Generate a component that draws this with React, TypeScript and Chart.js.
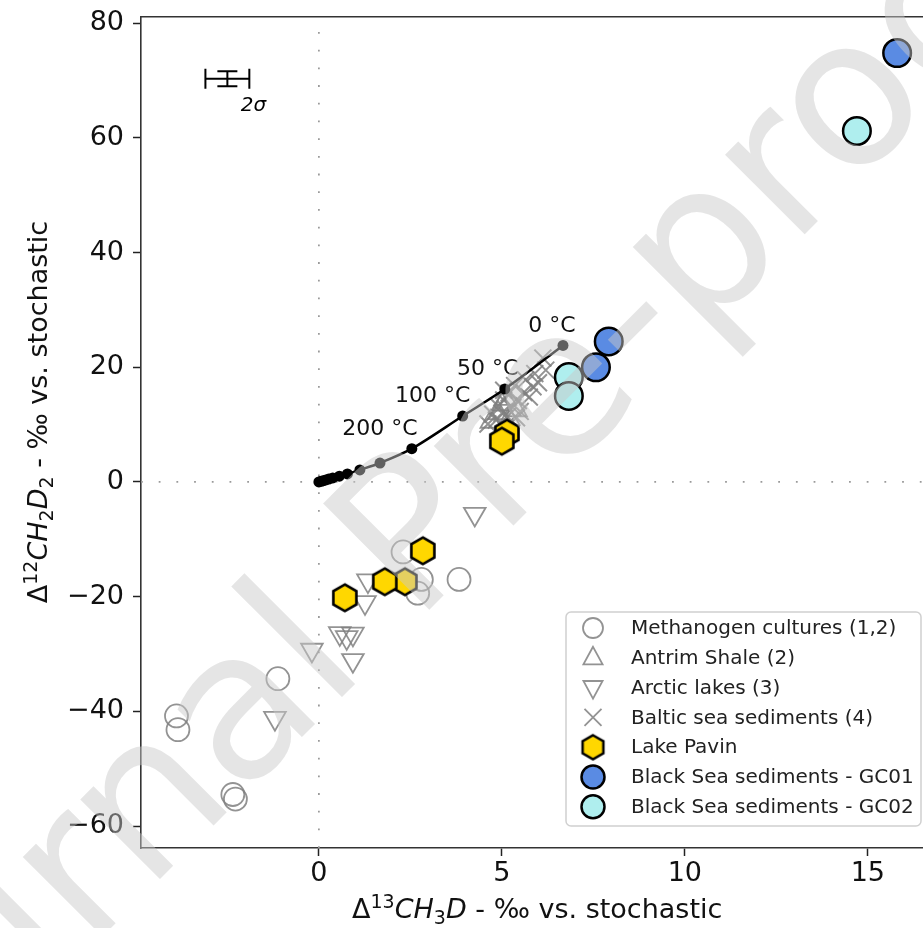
import React, { useEffect, useRef } from 'react';
import { Chart, registerables } from 'chart.js';

Chart.register(...registerables);

// ---------- data ----------
const X_TICKS = [0, 5, 10, 15];
const Y_TICKS = [-60, -40, -20, 0, 20, 40, 60, 80];
const X_MIN = -4.86;
const X_MAX = 16.9;
const Y_MIN = -63.83;
const Y_MAX = 81.2;

const METHANOGEN_X = [-3.89, -3.85, -2.35, -2.28, -1.12, 2.3, 2.8, 2.7, 3.83];
const METHANOGEN_Y = [-40.8, -43.2, -54.5, -55.3, -34.3, -12.2, -17.0, -19.4, -17.0];

const ANTRIM_X = [4.7, 4.9, 5.0, 5.2, 5.4, 5.1];
const ANTRIM_Y = [10.5, 12.0, 13.5, 11.0, 12.5, 14.5];

const ARCTIC_X = [4.26, 1.34, 1.26, 0.57, 0.76, 0.93, -0.19, 0.93, -1.2];
const ARCTIC_Y = [-5.6, -17.2, -21.0, -26.4, -27.1, -26.5, -29.3, -31.1, -41.2];

const BALTIC_X = [4.62, 4.75, 4.85, 4.9, 5.0, 5.05, 5.15, 5.2, 5.3, 5.35, 5.45, 5.5, 5.6, 5.65, 5.75, 5.85, 5.9, 6.0, 6.12, 6.2, 5.4, 5.05];
const BALTIC_Y = [10.1, 11.8, 10.8, 13.2, 12.0, 14.3, 11.4, 15.5, 13.0, 16.8, 14.2, 12.3, 15.6, 17.8, 14.8, 16.6, 18.9, 17.3, 21.6, 19.5, 11.2, 16.0];

const PAVIN_X = [5.14, 5.0, 2.84, 2.35, 1.8, 0.71];
const PAVIN_Y = [8.5, 7.1, -12.0, -17.4, -17.4, -20.2];

const GC01_X = [15.8, 7.92, 7.57];
const GC01_Y = [74.8, 24.5, 20.0];

const GC02_X = [14.7, 6.83, 6.83];
const GC02_Y = [61.2, 18.3, 15.0];

// equilibrium curve (0 °C ... high T)
const MODEL_X = [6.67, 5.08, 3.93, 2.54, 1.67, 1.12, 0.78, 0.56, 0.38, 0.27, 0.19, 0.12, 0.06, 0.0];
const MODEL_Y = [23.8, 16.2, 11.5, 5.8, 3.3, 2.1, 1.4, 1.0, 0.7, 0.5, 0.35, 0.22, 0.11, 0.0];
const MODEL_LABELS = ['0 °C', '50 °C', '100 °C', '200 °C'];

const ERROR_X = -2.5;
const ERROR_Y = 70.3;
const ERROR_DX = 0.6;
const ERROR_DY = 1.3;
const ERROR_LABEL = '2σ';

const LEGEND_LABELS = [
  'Methanogen cultures (1,2)',
  'Antrim Shale (2)',
  'Arctic lakes (3)',
  'Baltic sea sediments (4)',
  'Lake Pavin',
  'Black Sea sediments - GC01',
  'Black Sea sediments - GC02',
];

const WATERMARK_LEFT = 'Journal ';
const WATERMARK_RIGHT = 'Pre-proof';

// ---------- styles ----------
const FONT = '"DejaVu Sans", "Liberation Sans", sans-serif';
const GREY = 'rgba(128,128,128,0.85)';
const GOLD = '#FFD700';
const BLUE = '#5A8BE3';
const CYAN = '#AFEEEE';
const LABEL_OFFSETS = [[-11, -19], [-17, -20], [-30, -20], [-32, -19]];

const pts = (xs: number[], ys: number[]) => xs.map((x, i) => ({ x, y: ys[i] }));

function makeHex(R: number, lw: number) {
  const s = Math.ceil(2 * R + lw + 2);
  const c = document.createElement('canvas');
  c.width = s;
  c.height = s;
  const g = c.getContext('2d')!;
  const cx = s / 2, cy = s / 2;
  g.beginPath();
  for (let k = 0; k < 6; k++) {
    const a = -Math.PI / 2 + (k * Math.PI) / 3;
    const px = cx + R * Math.cos(a), py = cy + R * Math.sin(a);
    if (k === 0) g.moveTo(px, py); else g.lineTo(px, py);
  }
  g.closePath();
  g.fillStyle = GOLD;
  g.fill();
  g.lineWidth = lw;
  g.lineJoin = 'miter';
  g.strokeStyle = '#000';
  g.stroke();
  return c;
}

type Seg = { t: string; it?: boolean; sup?: boolean; sub?: boolean };

function drawRich(ctx: CanvasRenderingContext2D, segs: Seg[], x: number, y: number, size: number) {
  const fontFor = (s: Seg) => `${s.it ? 'italic ' : ''}${s.sup || s.sub ? Math.round(size * 0.7) : size}px ${FONT}`;
  const widths = segs.map((s) => { ctx.font = fontFor(s); return ctx.measureText(s.t).width; });
  const total = widths.reduce((a, b) => a + b, 0);
  let cx = x - total / 2;
  ctx.textAlign = 'left';
  ctx.textBaseline = 'alphabetic';
  segs.forEach((s, i) => {
    ctx.font = fontFor(s);
    const dy = s.sup ? -size * 0.38 : s.sub ? size * 0.22 : 0;
    ctx.fillText(s.t, cx, y + dy);
    cx += widths[i];
  });
}

function drawMarker(ctx: CanvasRenderingContext2D, kind: number, x: number, y: number, hex: HTMLCanvasElement) {
  ctx.save();
  ctx.setLineDash([]);
  if (kind === 0) {
    ctx.beginPath(); ctx.arc(x, y, 10, 0, Math.PI * 2);
    ctx.strokeStyle = GREY; ctx.lineWidth = 1.8; ctx.stroke();
  } else if (kind === 1 || kind === 2) {
    const r = 11; const dir = kind === 1 ? 1 : -1;
    ctx.beginPath();
    ctx.moveTo(x, y - dir * r);
    ctx.lineTo(x - r * 0.87, y + dir * r * 0.6);
    ctx.lineTo(x + r * 0.87, y + dir * r * 0.6);
    ctx.closePath();
    ctx.strokeStyle = GREY; ctx.lineWidth = 1.8; ctx.stroke();
  } else if (kind === 3) {
    const d = 8.5;
    ctx.beginPath();
    ctx.moveTo(x - d, y - d); ctx.lineTo(x + d, y + d);
    ctx.moveTo(x + d, y - d); ctx.lineTo(x - d, y + d);
    ctx.strokeStyle = GREY; ctx.lineWidth = 1.8; ctx.stroke();
  } else if (kind === 4) {
    ctx.drawImage(hex, x - hex.width / 2, y - hex.height / 2);
  } else {
    ctx.beginPath(); ctx.arc(x, y, 11.5, 0, Math.PI * 2);
    ctx.fillStyle = kind === 5 ? BLUE : CYAN; ctx.fill();
    ctx.strokeStyle = '#000'; ctx.lineWidth = 2.5; ctx.stroke();
  }
  ctx.restore();
}

export default function App() {
  const ref = useRef<HTMLCanvasElement>(null);

  useEffect(() => {
    const canvas = ref.current!;
    const hexPoint = makeHex(13.3, 2.6);
    const hexLegend = makeHex(12, 2.5);

    const overlay = {
      id: 'overlay',
      beforeDatasetsDraw(chart: any) {
        const { ctx, chartArea: a, scales } = chart;
        const sx = scales.x, sy = scales.y;
        ctx.save();
        ctx.beginPath();
        ctx.rect(a.left, a.top, a.right - a.left, a.bottom - a.top);
        ctx.clip();
        ctx.strokeStyle = '#9a9a9a';
        ctx.lineWidth = 1.8;
        ctx.setLineDash([1.8, 15.9]);
        const x0 = sx.getPixelForValue(0), y0 = sy.getPixelForValue(0);
        ctx.beginPath(); ctx.moveTo(x0, a.bottom); ctx.lineTo(x0, a.top); ctx.stroke();
        ctx.beginPath(); ctx.moveTo(a.left, y0); ctx.lineTo(a.right, y0); ctx.stroke();
        ctx.setLineDash([]);
        // error bar
        const ex = sx.getPixelForValue(ERROR_X), ey = sy.getPixelForValue(ERROR_Y);
        const exl = sx.getPixelForValue(ERROR_X - ERROR_DX), exr = sx.getPixelForValue(ERROR_X + ERROR_DX);
        const eyt = sy.getPixelForValue(ERROR_Y + ERROR_DY), eyb = sy.getPixelForValue(ERROR_Y - ERROR_DY);
        ctx.strokeStyle = '#000';
        ctx.lineWidth = 2;
        const cap = 10;
        ctx.beginPath();
        ctx.moveTo(exl, ey); ctx.lineTo(exr, ey);
        ctx.moveTo(exl, ey - cap); ctx.lineTo(exl, ey + cap);
        ctx.moveTo(exr, ey - cap); ctx.lineTo(exr, ey + cap);
        ctx.moveTo(ex, eyt); ctx.lineTo(ex, eyb);
        ctx.moveTo(ex - cap, eyt); ctx.lineTo(ex + cap, eyt);
        ctx.moveTo(ex - cap, eyb); ctx.lineTo(ex + cap, eyb);
        ctx.stroke();
        ctx.fillStyle = '#000';
        ctx.font = `italic 20px ${FONT}`;
        ctx.textAlign = 'center';
        ctx.textBaseline = 'middle';
        ctx.fillText(ERROR_LABEL, ex + 26, ey + 27);
        ctx.restore();
      },
      afterDatasetsDraw(chart: any) {
        const { ctx, scales } = chart;
        const sx = scales.x, sy = scales.y;
        ctx.save();
        ctx.fillStyle = '#111';
        ctx.font = `22px ${FONT}`;
        ctx.textAlign = 'center';
        ctx.textBaseline = 'middle';
        MODEL_LABELS.forEach((t, i) => {
          const px = sx.getPixelForValue(MODEL_X[i]) + LABEL_OFFSETS[i][0];
          const py = sy.getPixelForValue(MODEL_Y[i]) + LABEL_OFFSETS[i][1];
          ctx.fillText(t, px, py);
        });
        // legend
        const lx = 566, ly = 612, lw = 355, lh = 214, rr = 5;
        ctx.beginPath();
        ctx.moveTo(lx + rr, ly);
        ctx.arcTo(lx + lw, ly, lx + lw, ly + lh, rr);
        ctx.arcTo(lx + lw, ly + lh, lx, ly + lh, rr);
        ctx.arcTo(lx, ly + lh, lx, ly, rr);
        ctx.arcTo(lx, ly, lx + lw, ly, rr);
        ctx.closePath();
        ctx.fillStyle = 'rgba(255,255,255,0.85)';
        ctx.fill();
        ctx.strokeStyle = '#d0d0d0';
        ctx.lineWidth = 1.5;
        ctx.stroke();
        LEGEND_LABELS.forEach((t, i) => {
          const yy = 628 + i * 29.8;
          drawMarker(ctx, i, 593, yy, hexLegend);
          ctx.fillStyle = '#222';
          ctx.font = `20px ${FONT}`;
          ctx.textAlign = 'left';
          ctx.textBaseline = 'middle';
          ctx.fillText(t, 631, yy + 1);
        });
        ctx.restore();
      },
      afterDraw(chart: any) {
        const { ctx, chartArea: a } = chart;
        ctx.save();
        ctx.fillStyle = '#111';
        drawRich(ctx, [
          { t: 'Δ' }, { t: '13', sup: true }, { t: 'CH', it: true }, { t: '3', sub: true }, { t: 'D', it: true },
          { t: ' - ‰ vs. stochastic' },
        ], (a.left + a.right) / 2 - 2, 918, 27);
        ctx.save();
        ctx.translate(47, 412);
        ctx.rotate(-Math.PI / 2);
        drawRich(ctx, [
          { t: 'Δ' }, { t: '12', sup: true }, { t: 'CH', it: true }, { t: '2', sub: true }, { t: 'D', it: true },
          { t: '2', sub: true }, { t: ' - ‰ vs. stochastic' },
        ], 0, 0, 27);
        ctx.restore();
        // watermark
        ctx.translate(415, 624);
        ctx.rotate(-Math.PI / 4);
        ctx.font = `206px ${FONT}`;
        ctx.fillStyle = 'rgba(200,200,200,0.48)';
        ctx.textBaseline = 'alphabetic';
        ctx.textAlign = 'right';
        ctx.fillText(WATERMARK_LEFT, 0, 0);
        ctx.textAlign = 'left';
        ctx.fillText(WATERMARK_RIGHT, 0, 0);
        ctx.restore();
      },
    };

    const greyStyle = {
      backgroundColor: 'rgba(0,0,0,0)',
      borderColor: GREY,
      pointBorderWidth: 1.8,
    };

    const chart = new Chart(canvas, {
      type: 'scatter',
      data: {
        datasets: [
          { label: LEGEND_LABELS[0], data: pts(METHANOGEN_X, METHANOGEN_Y), pointStyle: 'circle', pointRadius: 11.5, ...greyStyle, order: 9 } as any,
          { label: LEGEND_LABELS[1], data: pts(ANTRIM_X, ANTRIM_Y), pointStyle: 'triangle', pointRadius: 12, ...greyStyle, order: 8 },
          { label: LEGEND_LABELS[2], data: pts(ARCTIC_X, ARCTIC_Y), pointStyle: 'triangle', pointRotation: 180, pointRadius: 12.5, ...greyStyle, order: 7 },
          { label: LEGEND_LABELS[3], data: pts(BALTIC_X, BALTIC_Y), pointStyle: 'crossRot', pointRadius: 12, ...greyStyle, pointBorderWidth: 2, order: 6 },
          {
            type: 'line', label: 'model', data: pts(MODEL_X, MODEL_Y), showLine: true, tension: 0.3,
            borderColor: '#000', borderWidth: 2.5, pointRadius: 5.5, pointStyle: 'circle',
            pointBackgroundColor: '#000', pointBorderColor: '#000', pointBorderWidth: 0, order: 5,
          } as any,
          { label: LEGEND_LABELS[4], data: pts(PAVIN_X, PAVIN_Y), pointStyle: hexPoint as any, order: 4 },
          { label: LEGEND_LABELS[5], data: pts(GC01_X, GC01_Y), pointStyle: 'circle', pointRadius: 13.8, backgroundColor: BLUE, borderColor: '#000', pointBorderWidth: 2.5, order: 3 },
          { label: LEGEND_LABELS[6], data: pts(GC02_X, GC02_Y), pointStyle: 'circle', pointRadius: 13.8, backgroundColor: CYAN, borderColor: '#000', pointBorderWidth: 2.5, order: 2 },
        ],
      },
      options: {
        responsive: false,
        animation: false,
        devicePixelRatio: 1,
        events: [],
        layout: { padding: { left: 0, top: 0, right: 22.6, bottom: 0 } },
        plugins: { legend: { display: false }, tooltip: { enabled: false }, title: { display: false } },
        scales: {
          x: {
            type: 'linear',
            position: 'bottom',
            min: X_MIN,
            max: X_MAX,
            afterBuildTicks: (s: any) => { s.ticks = X_TICKS.map((v) => ({ value: v })); },
            afterFit: (s: any) => { s.height = 80; s.paddingLeft = 0; s.paddingRight = 0; s.paddingTop = 0; s.paddingBottom = 0; },
            ticks: { font: { family: FONT, size: 27 }, color: '#111', padding: 2, maxRotation: 0, autoSkip: false },
            grid: { drawOnChartArea: false, drawTicks: true, tickLength: 8, tickWidth: 1.5, tickColor: '#222' },
            border: { display: true, color: '#333', width: 1.6 },
          },
          x2: {
            type: 'linear',
            position: 'top',
            min: X_MIN,
            max: X_MAX,
            afterFit: (s: any) => { s.height = 14; s.paddingLeft = 0; s.paddingRight = 0; s.paddingTop = 0; s.paddingBottom = 0; },
            ticks: { display: false },
            grid: { display: false, drawOnChartArea: false, drawTicks: false },
            border: { display: true, color: '#333', width: 1.6 },
          },
          y: {
            type: 'linear',
            position: 'left',
            min: Y_MIN,
            max: Y_MAX,
            afterBuildTicks: (s: any) => { s.ticks = Y_TICKS.map((v) => ({ value: v })); },
            afterFit: (s: any) => { s.width = 141; s.paddingLeft = 0; s.paddingRight = 0; s.paddingTop = 0; s.paddingBottom = 0; },
            ticks: { font: { family: FONT, size: 27 }, color: '#111', padding: 9, autoSkip: false, callback: (v: any) => (v < 0 ? '\u2212' + Math.abs(v) : String(v)) },
            grid: { drawOnChartArea: false, drawTicks: true, tickLength: 8, tickWidth: 1.5, tickColor: '#222' },
            border: { display: true, color: '#333', width: 1.6 },
          },
        },
      } as any,
      plugins: [overlay],
    });
    return () => chart.destroy();
  }, []);

  return (
    <div style={{ position: 'fixed', left: 0, top: 0, width: 923, height: 928, overflow: 'hidden', background: '#fff' }}>
      <canvas ref={ref} width={960} height={928} style={{ display: 'block', width: 960, height: 928 }} />
    </div>
  );
}
